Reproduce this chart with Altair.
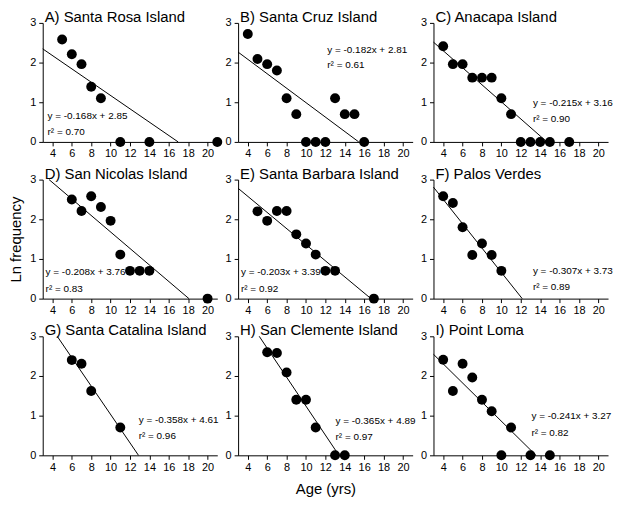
import altair as alt
import pandas as pd

FONT = "Liberation Sans"

titles = ["A) Santa Rosa Island", "B) Santa Cruz Island", "C) Anacapa Island",
          "D) San Nicolas Island", "E) Santa Barbara Island", "F) Palos Verdes",
          "G) Santa Catalina Island", "H) San Clemente Island", "I) Point Loma"]

age_A = [5, 6, 7, 8, 9, 11, 14, 21]
lnf_A = [2.58, 2.21, 1.96, 1.39, 1.10, 0, 0, 0]
age_B = [4, 5, 6, 7, 8, 9, 10, 11, 12, 13, 14, 15, 16]
lnf_B = [2.72, 2.09, 1.96, 1.80, 1.10, 0.70, 0, 0, 0, 1.10, 0.70, 0.70, 0]
age_C = [4, 5, 6, 7, 8, 9, 10, 11, 12, 13, 14, 15, 17]
lnf_C = [2.41, 1.96, 1.96, 1.62, 1.62, 1.62, 1.10, 0.70, 0, 0, 0, 0, 0]
age_D = [6, 7, 8, 9, 10, 11, 12, 13, 14, 20]
lnf_D = [2.50, 2.21, 2.58, 2.31, 1.96, 1.11, 0.70, 0.70, 0.70, 0]
age_E = [5, 6, 7, 8, 9, 10, 11, 12, 13, 17]
lnf_E = [2.20, 1.96, 2.21, 2.21, 1.62, 1.39, 1.11, 0.70, 0.70, 0]
age_F = [4, 5, 6, 7, 8, 9, 10]
lnf_F = [2.58, 2.41, 1.80, 1.10, 1.39, 1.10, 0.70]
age_G = [6, 7, 8, 11]
lnf_G = [2.40, 2.31, 1.62, 0.70]
age_H = [6, 7, 8, 9, 10, 11, 13, 14]
lnf_H = [2.60, 2.58, 2.09, 1.40, 1.40, 0.70, 0, 0]
age_I = [4, 5, 6, 7, 8, 9, 10, 11, 13, 15]
lnf_I = [2.41, 1.62, 2.31, 1.96, 1.40, 1.11, 0, 0.70, 0, 0]

slopes = [-0.168, -0.182, -0.215, -0.208, -0.203, -0.307, -0.358, -0.365, -0.241]
intercepts = [2.85, 2.81, 3.16, 3.76, 3.39, 3.73, 4.61, 4.89, 3.27]
r2s = [0.70, 0.61, 0.90, 0.83, 0.92, 0.89, 0.96, 0.97, 0.82]

# label anchors (data units): equation line and r^2 line
eq_x = [3.5, 12.2, 13.25, 3.3, 3.3, 13.25, 12.9, 13.05, 13.1]
eq_y = [0.65, 2.32, 0.97, 0.67, 0.67, 0.69, 0.88, 0.86, 0.98]
r2_y = [0.26, 1.94, 0.58, 0.25, 0.24, 0.30, 0.48, 0.46, 0.56]

ages = [age_A, age_B, age_C, age_D, age_E, age_F, age_G, age_H, age_I]
lnfs = [lnf_A, lnf_B, lnf_C, lnf_D, lnf_E, lnf_F, lnf_G, lnf_H, lnf_I]

X_MIN, X_MAX, Y_MIN, Y_MAX = 3, 21, 0, 3
W, H = 176, 120

xscale = alt.Scale(domain=[X_MIN, X_MAX], nice=False, zero=False)
yscale = alt.Scale(domain=[Y_MIN, Y_MAX], nice=False, zero=False)


def panel(i):
    m, b = slopes[i], intercepts[i]
    x0 = max(X_MIN, (Y_MAX - b) / m)
    x1 = min(X_MAX, (Y_MIN - b) / m)
    pts = pd.DataFrame({"age": ages[i], "lnf": lnfs[i]})
    ln = pd.DataFrame({"age": [x0, x1], "lnf": [m * x0 + b, m * x1 + b]})
    lab = pd.DataFrame({
        "age": [eq_x[i], eq_x[i]],
        "lnf": [eq_y[i], r2_y[i]],
        "txt": [f"y = {m:.3f}x + {b:.2f}", f"r\u00b2 = {r2s[i]:.2f}"],
    })

    xaxis_kw = dict(values=list(range(4, 21, 2)), format="d", tickSize=4,
                    labelPadding=2, labelOverlap=False, labelFlush=False)
    yaxis_kw = dict(values=[0, 1, 2, 3], format="d", tickSize=4, labelPadding=3,
                    labelOverlap=False, labelFlush=False)
    if i == 7:
        xaxis = alt.Axis(title="Age (yrs)", titleY=26, **xaxis_kw)
    else:
        xaxis = alt.Axis(title=None, **xaxis_kw)
    if i == 3:
        yaxis = alt.Axis(title="Ln frequency", titleX=-19, **yaxis_kw)
    else:
        yaxis = alt.Axis(title=None, **yaxis_kw)

    enc_x = alt.X("age:Q", scale=xscale, axis=xaxis)
    enc_y = alt.Y("lnf:Q", scale=yscale, axis=yaxis)

    points = alt.Chart(pts).mark_circle(size=100, color="black", opacity=1).encode(
        x=enc_x, y=enc_y)
    line = alt.Chart(ln).mark_line(color="black", strokeWidth=1).encode(
        x=enc_x, y=enc_y)
    text = alt.Chart(lab).mark_text(align="left", baseline="middle", fontSize=10,
                                    font=FONT, color="black").encode(
        x=enc_x, y=enc_y, text="txt:N")
    return alt.layer(points, line, text).properties(
        width=W, height=H,
        title=alt.TitleParams(text=titles[i], anchor="start", frame="group",
                              baseline="alphabetic", offset=-20, dx=2,
                              fontSize=15, font=FONT, fontWeight="normal",
                              color="black"))


chart = alt.concat(*[panel(i) for i in range(9)], columns=3,
                   spacing={"row": 38, "column": 21}, bounds="flush").properties(
    padding=0
).configure_axis(
    grid=False, domainColor="black", tickColor="black", labelColor="black",
    labelFont=FONT, labelFontSize=11, titleFont=FONT, titleFontSize=15,
    titleFontWeight="normal", titleColor="black", domainWidth=1, tickWidth=1
).configure_view(stroke=None)

chart.save("out.html", embed_options={"renderer": "svg", "actions": False})
